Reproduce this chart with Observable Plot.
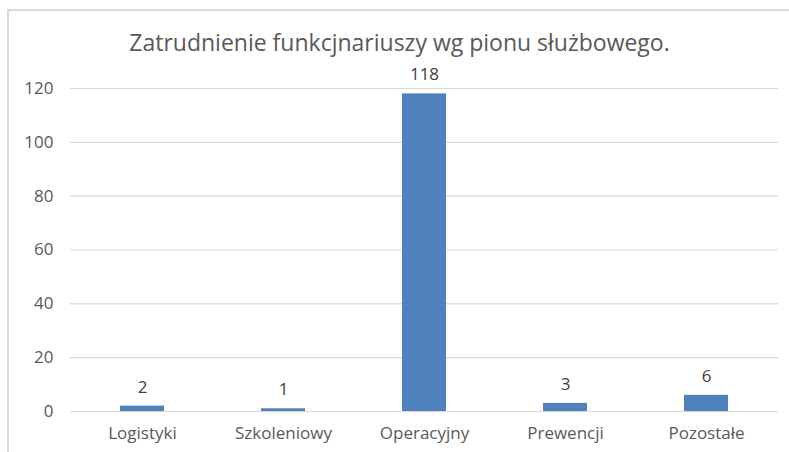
<!DOCTYPE html>
<html>
<head>
<meta charset="utf-8">
<script src="https://cdn.jsdelivr.net/npm/d3@7"></script>
<script src="https://cdn.jsdelivr.net/npm/@observablehq/plot@0.6"></script>
<style>
  html, body { margin: 0; padding: 0; background: #fff; }
  body { width: 789px; height: 452px; position: relative; overflow: hidden; font-family: "Open Sans", sans-serif; }
  #frame { position: absolute; left: 7px; top: 9px; width: 790px; height: 450px; border-left: 2px solid #d9d9d9; border-top: 2px solid #d9d9d9; }
  #title { position: absolute; left: 0; top: 26px; width: 799px; text-align: center; font-size: 23px; line-height: 32px; color: #595959; }
  #chart { position: absolute; left: 0; top: 60px; }
</style>
</head>
<body>
<div id="frame"></div>
<div id="title">Zatrudnienie funkcjnariuszy wg pionu służbowego.</div>
<div id="chart"></div>
<script>
const categories = ["Logistyki", "Szkoleniowy", "Operacyjny", "Prewencji", "Pozostałe"];
const values = [2, 1, 118, 3, 6];
const yTicks = [0, 20, 40, 60, 80, 100, 120];

const data = categories.map((c, i) => ({category: c, value: values[i]}));

const chart = Plot.plot({
  width: 789,
  height: 392,
  marginTop: 28,
  marginBottom: 41,
  marginLeft: 70,
  marginRight: 11,
  style: {fontFamily: "Open Sans, sans-serif", fontSize: "17px", color: "#595959", background: "transparent"},
  x: {domain: categories, paddingInner: 0.69, paddingOuter: 0.345, label: null, tickSize: 0, tickPadding: 15},
  y: {domain: [0, 120], ticks: yTicks, label: null, tickSize: 0, tickPadding: 17},
  marks: [
    Plot.ruleY(yTicks, {stroke: "#d9d9d9", strokeWidth: 1.2, strokeOpacity: 1}),
    Plot.barY(data, {x: "category", y: "value", fill: "#4f81bd"}),
    Plot.text(data, {x: "category", y: "value", text: d => String(d.value), dy: -19, fill: "#404040", fontSize: 17})
  ]
});
document.getElementById("chart").appendChild(chart);
</script>
</body>
</html>
